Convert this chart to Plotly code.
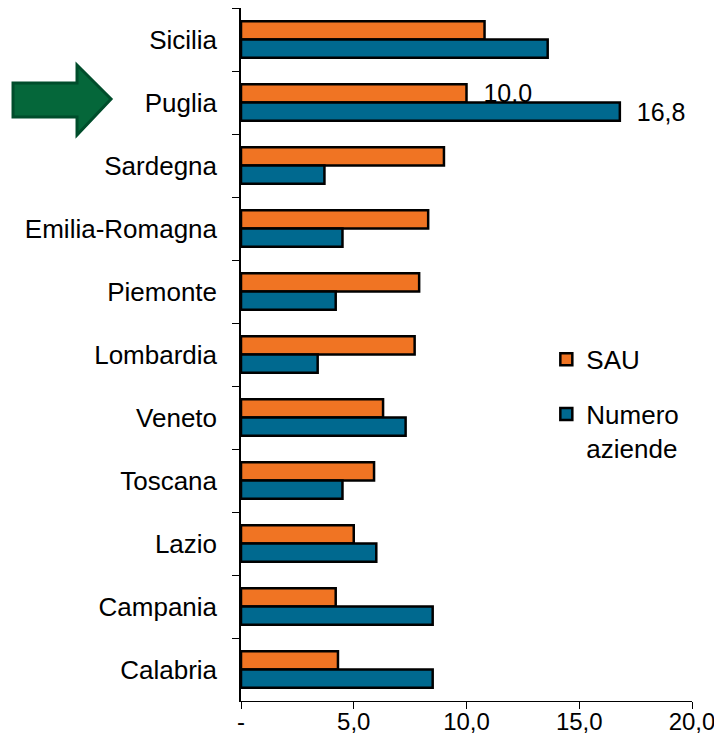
import plotly.graph_objects as go

regioni = ["Sicilia", "Puglia", "Sardegna", "Emilia-Romagna", "Piemonte", "Lombardia",
           "Veneto", "Toscana", "Lazio", "Campania", "Calabria"]
sau = [10.8, 10.0, 9.0, 8.3, 7.9, 7.7, 6.3, 5.9, 5.0, 4.2, 4.3]
numero_aziende = [13.6, 16.8, 3.7, 4.5, 4.2, 3.4, 7.3, 4.5, 6.0, 8.5, 8.5]
tick_vals = [0, 5, 10, 15, 20]
tick_text = ["-", "5,0", "10,0", "15,0", "20,0"]
evidenziata = "Puglia"

FONT = "Liberation Sans, Arial, sans-serif"
FS = 26
# the page body adds 8px around the figure
OFF = 8
W, H = 722 - OFF, 747 - OFF
ML, MR, MT, MB = 241 - OFF, 30, 8 - OFF, 46


def px2paper(x, y):
    # pixel position in the screenshot -> paper coordinates of the plot area
    x0, y1 = OFF + ML, OFF + H - MB
    pw = W - ML - MR
    ph = H - MT - MB
    return (x - x0) / pw, (y1 - y) / ph


def labels(vals):
    return ["  " + f"{v:.1f}".replace(".", ",") if r == evidenziata else "" for r, v in zip(regioni, vals)]


fig = go.Figure()
fig.add_trace(go.Bar(
    y=regioni, x=sau, orientation="h", name="SAU",
    marker=dict(color="#F07423", line=dict(color="black", width=2.5)),
    text=labels(sau), textposition="outside", cliponaxis=False, constraintext="none",
    textfont=dict(size=25, color="black", family=FONT),
    legendgroup="a",
))
fig.add_trace(go.Bar(
    y=regioni, x=numero_aziende, orientation="h", name="Numero<br>aziende",
    marker=dict(color="#00698F", line=dict(color="black", width=2.5)),
    text=labels(numero_aziende), textposition="outside", cliponaxis=False, constraintext="none",
    textfont=dict(size=25, color="black", family=FONT),
    legendgroup="b",
))

# green arrow pointing at Puglia
pts = [(13, 83), (77, 83), (77, 65), (111, 99), (77, 135), (77, 117), (13, 117)]
path = "M " + " L ".join(f"{px2paper(x, y)[0]:.4f},{px2paper(x, y)[1]:.4f}" for x, y in pts) + " Z"
fig.add_shape(type="path", path=path, xref="paper", yref="paper",
              fillcolor="#05673A", line=dict(color="#004D2B", width=3))

fig.update_layout(
    width=W, height=H,
    margin=dict(l=ML, r=MR, t=MT, b=MB, autoexpand=False),
    plot_bgcolor="white", paper_bgcolor="white",
    barmode="group", bargap=0.42, bargroupgap=0,
    font=dict(family=FONT, size=FS, color="black"),
    showlegend=True,
    legend=dict(x=0.677, y=0.527, xanchor="left", yanchor="top", valign="top",
                font=dict(size=FS), tracegroupgap=18, bgcolor="rgba(0,0,0,0)"),
    xaxis=dict(range=[0, 20], tickvals=tick_vals, ticktext=tick_text, automargin=False,
               tickfont=dict(size=24), ticklabelstandoff=-8,
               showgrid=False, zeroline=False, showline=True, linecolor="black", linewidth=1,
               ticks="outside", ticklen=7, tickcolor="black"),
    yaxis=dict(autorange="reversed", automargin=False, showgrid=False,
               showline=True, linecolor="black", linewidth=1.5,
               ticks="outside", ticklen=7, tickcolor="black", tickson="boundaries",
               ticklabelstandoff=17),
)

fig.write_html("out.html")
